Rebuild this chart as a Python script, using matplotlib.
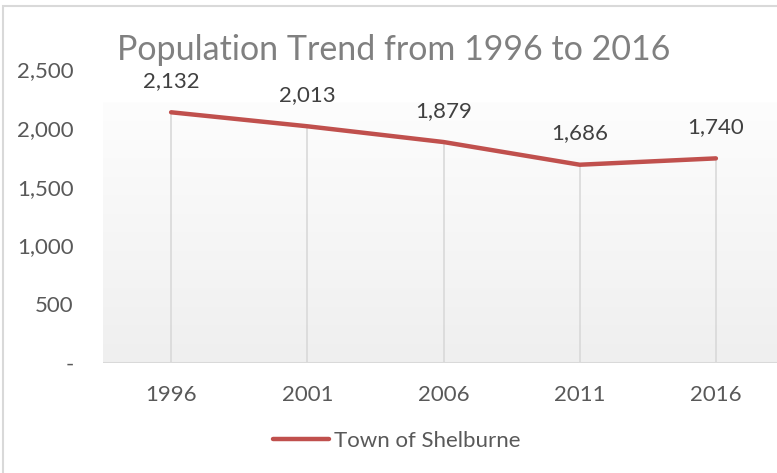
import numpy as np
import matplotlib
matplotlib.use("Agg")
import matplotlib.pyplot as plt
from matplotlib.patches import Rectangle

# data
years = ["1996", "2001", "2006", "2011", "2016"]
population = [2132, 2013, 1879, 1686, 1740]
y_ticks = [0, 500, 1000, 1500, 2000, 2500]
y_tick_labels = ["-", "500", "1,000", "1,500", "2,000", "2,500"]
series_name = "Town of Shelburne"
title = "Population Trend from 1996 to 2016"

plt.rcParams["font.family"] = ["Lato", "DejaVu Sans"]

W, H = 777, 473
fig = plt.figure(figsize=(W / 100, H / 100), dpi=100)

# chart border (partly cropped on the right)
fig.patches.append(Rectangle((3 / W, -0.01), 1.0, (H - 6) / H + 0.01,
                             transform=fig.transFigure, fill=False,
                             edgecolor="#d9d9d9", linewidth=1.5))

# plot area, runs past the right edge like the original
ax = fig.add_axes([103 / W, (H - 363) / H, (784 - 103) / W, (363 - 69) / H])
ax.set_xlim(-0.5, len(years) - 0.5)
ax.set_ylim(0, 2500)

# vertical gradient fill for the plot area
grad = np.linspace(0, 1, 256).reshape(-1, 1)
top_c = np.array([0xfd, 0xfd, 0xfd]) / 255
bot_c = np.array([0xef, 0xef, 0xef]) / 255
img = top_c + (bot_c - top_c) * grad
ax.imshow(img[:, None, :].repeat(2, axis=1), extent=(-0.5, len(years) - 0.5, 0, 2213),
          aspect="auto", origin="upper", zorder=0)

x = np.arange(len(years))
# drop lines
ax.vlines(x, 0, population, colors="#d9d9d9", linewidth=1.2, zorder=1)
ax.axhline(0, color="#d9d9d9", linewidth=1.5, zorder=1)

ax.plot(x, population, color="#c0504d", linewidth=3.2, solid_capstyle="round",
        zorder=3, label=series_name)

for xi, v in zip(x, population):
    ax.annotate(f"{v:,}", (xi, v), xytext=(0, 22.5), textcoords="offset points",
                ha="center", va="center", fontsize=16, color="#404040")

for s in ax.spines.values():
    s.set_visible(False)
ax.set_xticks(x)
ax.set_xticklabels(years)
ax.set_yticks(y_ticks)
ax.set_yticklabels(y_tick_labels)
ax.tick_params(axis="both", length=0, labelsize=16, labelcolor="#595959")
ax.tick_params(axis="x", pad=16)
ax.tick_params(axis="y", pad=21)

fig.text(394 / W, 1 - 50 / H, title, ha="center", va="center",
         fontsize=24.5, color="#808080")

leg = fig.legend(loc="center", bbox_to_anchor=(397 / W, 1 - 441 / H), frameon=False,
                 fontsize=16, handlelength=2.5, handletextpad=0.25, labelcolor="#595959")

fig.savefig("out.png", dpi=100)
